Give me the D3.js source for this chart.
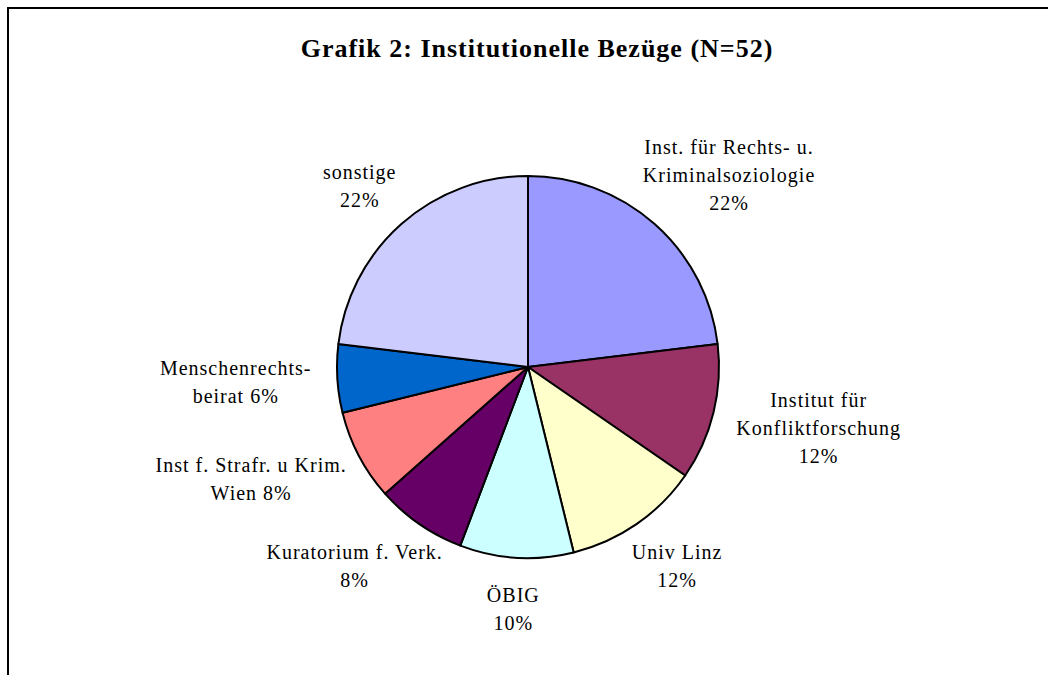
<!DOCTYPE html>
<html>
<head>
<meta charset="utf-8">
<script src="https://cdn.jsdelivr.net/npm/d3@7"></script>
<style>
  body { margin: 0; background: #fff; }
  svg { display: block; }
</style>
</head>
<body>
<svg width="1048" height="675"></svg>
<script>
const categories = [
  ["Inst. für Rechts- u.", "Kriminalsoziologie"],
  ["Institut für", "Konfliktforschung"],
  ["Univ Linz"],
  ["ÖBIG"],
  ["Kuratorium f. Verk."],
  ["Inst f. Strafr. u Krim.", "Wien"],
  ["Menschenrechts-", "beirat"],
  ["sonstige"]
];
// counts out of N=52
const counts = [12, 6, 6, 5, 4, 4, 3, 12];
const percentLabels = ["22%", "12%", "12%", "10%", "8%", "8%", "6%", "22%"];
// percent goes on its own line, or on the last line of the name
const percentInline = [false, false, false, false, false, true, true, false];
const sliceColors = ["#9999FF", "#993366", "#FFFFCC", "#CCFFFF", "#660066", "#FF8080", "#0066CC", "#CCCCFF"];

const svg = d3.select("svg");
const width = 1048, height = 675;
const cx = 528, cy = 367, radius = 191;
const fontFamily = "'Liberation Serif', 'Times New Roman', serif";

// chart area frame (runs off the right and bottom edge)
svg.append("rect")
  .attr("x", 8)
  .attr("y", 8)
  .attr("width", width + 20)
  .attr("height", height + 20)
  .attr("fill", "none")
  .attr("stroke", "#000")
  .attr("stroke-width", 2);

svg.append("text")
  .attr("x", 537)
  .attr("y", 57)
  .attr("text-anchor", "middle")
  .style("font-family", fontFamily)
  .style("font-weight", "bold")
  .style("font-size", "26px")
  .style("letter-spacing", "1px")
  .text("Grafik 2: Institutionelle Bezüge (N=52)");

const pie = d3.pie().sort(null).value(d => d)(counts);
const arc = d3.arc().innerRadius(0).outerRadius(radius);

const g = svg.append("g").attr("transform", `translate(${cx},${cy})`);

g.selectAll("path.slice")
  .data(pie)
  .join("path")
    .attr("class", "slice")
    .attr("d", arc)
    .attr("fill", (d, i) => sliceColors[i])
    .attr("stroke", "#000")
    .attr("stroke-width", 2)
    .attr("stroke-linejoin", "round");

const lineHeight = 28;
const gap = 26;

pie.forEach((d, i) => {
  const lines = categories[i].slice();
  if (percentInline[i]) lines[lines.length - 1] += " " + percentLabels[i];
  else lines.push(percentLabels[i]);

  const label = g.append("text")
    .attr("text-anchor", "middle")
    .style("font-family", fontFamily)
    .style("font-size", "20px")
    .style("letter-spacing", "1px")
    .attr("fill", "#000");

  lines.forEach((t, j) => {
    label.append("tspan")
      .attr("x", 0)
      .attr("y", j * lineHeight)
      .text(t);
  });

  const box = label.node().getBBox();
  const mid = (d.startAngle + d.endAngle) / 2;
  const sx = Math.sin(mid), sy = -Math.cos(mid);
  const px = sx * (radius + gap) + sx * box.width / 2;
  const py = sy * (radius + gap) + sy * box.height / 2;
  // shift so the box centre lands on (px, py)
  const bx = box.x + box.width / 2, by = box.y + box.height / 2;
  label.attr("transform", `translate(${px - bx},${py - by})`);
});
</script>
</body>
</html>
